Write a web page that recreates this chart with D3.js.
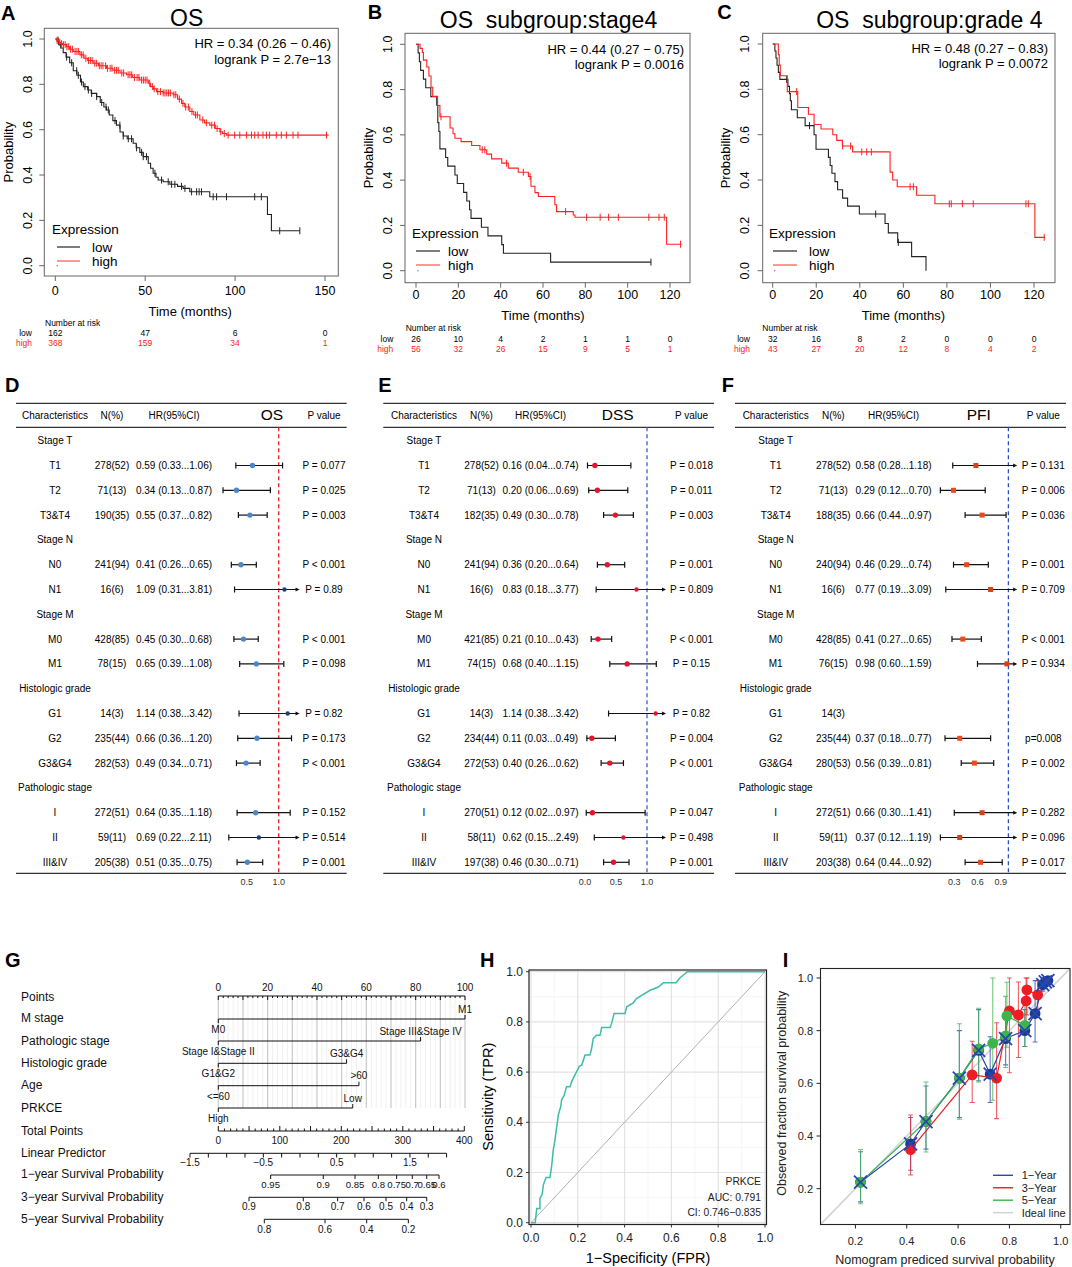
<!DOCTYPE html>
<html><head><meta charset="utf-8">
<script src="https://cdn.jsdelivr.net/npm/d3@7"></script>
<style>body{margin:0;background:#fff}svg text{font-family:"Liberation Sans",Arial,sans-serif}</style>
</head><body><svg id="c" width="1072" height="1267"></svg>
<script>
// ---------------- DATA ----------------
// Panel A (OS)
const aLowT=[1,2,3,4.4,6,8,10,12,14,15.6,18,20,23,25,27,28.5,30,32,34,36,37.8,40,43.3,45,47,48.9,51.7,53,54.4,56,57.2,60,63.7,68,71.1,74.8,85.9,118,120.2];
const aLowS=[0.99,0.975,0.96,0.94,0.92,0.895,0.86,0.84,0.81,0.79,0.775,0.76,0.746,0.72,0.70,0.687,0.665,0.64,0.62,0.59,0.572,0.56,0.54,0.52,0.50,0.481,0.452,0.43,0.408,0.39,0.378,0.37,0.359,0.35,0.341,0.326,0.304,0.226,0.154];
const aLowEnd=136;
const aLowCens=[1.7,6.3,9.1,11.9,12.8,14.6,16.5,18.4,20.2,23,25.8,28.2,29.5,33.2,35.9,37.8,40.6,42.4,45.2,48,48.9,50.7,55.4,59.1,62.8,64.7,66.5,70.2,72.1,75.8,78.6,80,81.3,87.8,89.7,95.2,110.9,114.6,124.8,136];
const aHighT=[1,2,3,4,6.3,8,10,13.7,16,18,21.1,24,28.5,32,36,39.6,43,47,51.7,53,54.5,56.3,60,65.6,68,70.2,72,74.8,77,80.4,83,85.9,89,91.5,93,95.2];
const aHighS=[0.995,0.985,0.98,0.975,0.966,0.955,0.945,0.93,0.915,0.905,0.893,0.882,0.871,0.862,0.85,0.842,0.83,0.819,0.805,0.79,0.78,0.768,0.762,0.754,0.735,0.716,0.70,0.68,0.665,0.643,0.63,0.62,0.605,0.591,0.583,0.576];
const aHighEnd=152;
const aHighCens=[1,1.5,2.5,3.5,4.5,5.5,6.5,7.5,8.5,9.5,11,12,13,14.5,15.5,17,18.5,19.5,20.5,22,23,24.5,25.5,26.5,28,29,30.5,31.5,33,34,35,37,38,40.5,41.5,42.5,44,45.5,46.5,48,49,50,51,52.5,54,55,57,58.5,60,61,62,63,64,66,67,69,71,72.5,74,76,78,79,82,84,87,88.5,90,92,94,96.1,99.8,102.6,106.3,109.1,110.9,112.8,115.5,117.4,119.2,122.9,125.7,128.5,132.2,135,150.8];
const aTicks=[0,50,100,150];
const aRiskLow=[162,47,6,0], aRiskHigh=[368,159,34,1];
// Panel B (stage4)
const bLowT=[1.0,1.6,2.2,3.5,4.6,7.0,9.8,10.3,10.8,11.3,14.0,15.0,18.4,19.5,22.5,24.0,25.3,26.0,30.9,34.0,40.5,41.3,63.6];
const bLowS=[0.962,0.923,0.885,0.846,0.808,0.769,0.731,0.654,0.615,0.538,0.500,0.462,0.423,0.385,0.346,0.308,0.269,0.231,0.192,0.154,0.115,0.077,0.038];
const bLowEnd=111, bLowCens=[111];
const bHighT=[1.9,3.0,3.5,5.1,6.1,7.1,7.9,10.2,11.3,16.1,17.5,18.4,21.3,26.3,30.2,33.4,35.7,40.5,43.6,48.3,53.1,54.3,56.2,57.8,65.6,66.4,74.3,75.1,118.4];
const bHighS=[0.982,0.964,0.93,0.90,0.86,0.81,0.77,0.73,0.68,0.63,0.605,0.585,0.57,0.553,0.534,0.515,0.494,0.475,0.453,0.435,0.416,0.373,0.345,0.328,0.291,0.261,0.246,0.236,0.117];
const bHighEnd=125.5, bHighCens=[11.8,31.3,32.5,42.8,50.7,53.9,70.7,80.6,87.0,91.0,95.6,110.0,114.8,117.3,125.0];
const bTicks=[0,20,40,60,80,100,120];
const bRiskLow=[26,10,4,2,1,1,0], bRiskHigh=[56,32,26,15,9,5,1];
// Panel C (grade 4)
const cLowT=[1.0,1.5,2.0,2.6,3.3,7.0,7.7,8.1,8.6,11.3,14.9,19.0,19.9,25.6,26.4,27.2,28.6,29.8,32.1,34.4,39.8,51.6,53.1,57.4,63.8,70.4];
const cLowS=[0.969,0.938,0.906,0.875,0.844,0.813,0.781,0.75,0.71,0.675,0.64,0.60,0.536,0.50,0.464,0.43,0.393,0.357,0.32,0.285,0.25,0.208,0.167,0.125,0.062,0.0];
const cLowEnd=70.4, cLowCens=[6.4,16.9,47.3,57.7];
const cHighT=[2.6,3.0,3.5,6.7,11.5,16.4,19.0,22.2,27.6,29.4,32.0,36.7,53.9,55.1,57.2,66.1,74.5,120.4];
const cHighS=[0.953,0.907,0.86,0.79,0.72,0.69,0.645,0.625,0.60,0.575,0.55,0.524,0.435,0.40,0.37,0.333,0.295,0.147];
const cHighEnd=125, cHighCens=[11.0,32.1,35.8,40.9,43.2,45.3,63.1,64.6,81.1,82.0,87.1,92.1,116.3,117.4,124.7];
const cTicks=[0,20,40,60,80,100,120];
const cRiskLow=[32,16,8,2,0,0,0], cRiskHigh=[43,27,20,12,8,4,2];

// Forest plots D/E/F
const forestRows=["Stage T","T1","T2","T3&T4","Stage N","N0","N1","Stage M","M0","M1","Histologic grade","G1","G2","G3&G4","Pathologic stage","I","II","III&IV"];
const forestHeads=["Stage T","Stage N","Stage M","Histologic grade","Pathologic stage"];
const osN=["278(52)","71(13)","190(35)","241(94)","16(6)","428(85)","78(15)","14(3)","235(44)","282(53)","272(51)","59(11)","205(38)"];
const osHR=[0.59,0.34,0.55,0.41,1.09,0.45,0.65,1.14,0.66,0.49,0.64,0.69,0.51];
const osLo=[0.33,0.13,0.37,0.26,0.31,0.30,0.39,0.38,0.36,0.34,0.35,0.22,0.35];
const osHi=[1.06,0.87,0.82,0.65,3.81,0.68,1.08,3.42,1.20,0.71,1.18,2.11,0.75];
const osP=["P = 0.077","P = 0.025","P = 0.003","P < 0.001","P = 0.89","P < 0.001","P = 0.098","P = 0.82","P = 0.173","P < 0.001","P = 0.152","P = 0.514","P = 0.001"];
const dssN=["278(52)","71(13)","182(35)","241(94)","16(6)","421(85)","74(15)","14(3)","234(44)","272(53)","270(51)","58(11)","197(38)"];
const dssHR=[0.16,0.20,0.49,0.36,0.83,0.21,0.68,1.14,0.11,0.40,0.12,0.62,0.46];
const dssLo=[0.04,0.06,0.30,0.20,0.18,0.10,0.40,0.38,0.03,0.26,0.02,0.15,0.30];
const dssHi=[0.74,0.69,0.78,0.64,3.77,0.43,1.15,3.42,0.49,0.62,0.97,2.49,0.71];
const dssP=["P = 0.018","P = 0.011","P = 0.003","P = 0.001","P = 0.809","P < 0.001","P = 0.15","P = 0.82","P = 0.004","P < 0.001","P = 0.047","P = 0.498","P = 0.001"];
const pfiN=["278(52)","71(13)","188(35)","240(94)","16(6)","428(85)","76(15)","14(3)","235(44)","280(53)","272(51)","59(11)","203(38)"];
const pfiHR=[0.58,0.29,0.66,0.46,0.77,0.41,0.98,null,0.37,0.56,0.66,0.37,0.64];
const pfiLo=[0.28,0.12,0.44,0.29,0.19,0.27,0.60,null,0.18,0.39,0.30,0.12,0.44];
const pfiHi=[1.18,0.70,0.97,0.74,3.09,0.65,1.59,null,0.77,0.81,1.41,1.19,0.92];
const pfiP=["P = 0.131","P = 0.006","P = 0.036","P = 0.001","P = 0.709","P < 0.001","P = 0.934","","p=0.008","P = 0.002","P = 0.282","P = 0.096","P = 0.017"];

// Nomogram G
const nomoVars=["M stage","Pathologic stage","Histologic grade","Age","PRKCE"];
const nomoLowLab=["M0","Stage I&Stage II","G1&G2","<=60","High"];
const nomoHighLab=["M1","Stage III&Stage IV","G3&G4",">60","Low"];
const nomoHighPts=[100,82,52,57,54.5];
const pointsLabels=[0,20,40,60,80,100];
const totalLabels=[0,100,200,300,400];
const lpLabels=[-1.5,-0.5,0.5,1.5];
const lpRange=[-1.5,2.0], lpTotal=[-46,371.2];
const surv1Lab=["0.95","0.9","0.85","0.8","0.75","0.7","0.65","0.6"], surv1Tot=[85.2,170.7,222.3,260.2,290,315.4,338.9,358.9];
const surv3Lab=["0.9","0.8","0.7","0.6","0.5","0.4","0.3"], surv3Tot=[49.9,138.2,194.1,236.9,272.7,306.3,338.9];
const surv5Lab=["0.8","0.6","0.4","0.2"], surv5Tot=[74.8,173.5,241.3,309];

// ROC H
const rocFPR=[0,0.018,0.0245,0.0245,0.038,0.038,0.048,0.0526,0.064,0.081,0.088,0.095,0.1026,0.11,0.117,0.127,0.131,0.141,0.152,0.167,0.174,0.184,0.195,0.207,0.217,0.231,0.252,0.259,0.266,0.28,0.295,0.302,0.338,0.345,0.355,0.402,0.409,0.437,0.451,0.473,0.509,0.544,0.566,0.62,0.637,0.658,0.668,1.0];
const rocTPR=[0,0,0.057,0.057,0.057,0.097,0.114,0.15,0.18,0.18,0.223,0.289,0.33,0.383,0.43,0.463,0.49,0.506,0.542,0.542,0.562,0.582,0.602,0.624,0.628,0.668,0.668,0.694,0.734,0.747,0.747,0.778,0.778,0.796,0.833,0.833,0.86,0.876,0.893,0.906,0.926,0.939,0.956,0.956,0.976,0.992,1.0,1.0];

// Calibration I
const cal1X=[0.22,0.415,0.475,0.605,0.68,0.725,0.785,0.86,0.90,0.93,0.94,0.95];
const cal1Y=[0.225,0.37,0.455,0.62,0.725,0.635,0.77,0.80,0.865,0.975,0.985,0.99];
const cal1Lo=[0.15,0.27,0.35,0.47,0.61,0.527,0.67,0.74,0.757,0.95,0.96,0.97];
const cal1Hi=[0.34,0.47,0.59,0.80,0.88,0.777,0.87,0.88,0.99,1.0,1.0,1.0];
const cal3X=[0.415,0.655,0.75,0.80,0.835,0.865,0.868,0.91];
const cal3Y=[0.348,0.632,0.62,0.875,0.86,0.913,0.955,0.936];
const cal3Lo=[0.252,0.527,0.466,0.64,0.698,0.80,0.86,0.885];
const cal3Hi=[0.48,0.76,0.83,1.0,0.985,1.0,1.0,0.99];
const cal5X=[0.22,0.475,0.605,0.68,0.735,0.785,0.79,0.86];
const cal5Y=[0.225,0.455,0.62,0.731,0.752,0.78,0.856,0.82];
const cal5Lo=[0.143,0.339,0.464,0.605,0.536,0.66,0.737,0.74];
const cal5Hi=[0.349,0.605,0.826,0.885,1.0,0.93,0.984,0.905];
const calLegend=["1−Year","3−Year","5−Year","Ideal line"];

// ---------------- DRAWING ----------------
const svg=d3.select('#c');
svg.append('rect').attr('width',1072).attr('height',1267).attr('fill','#fff');
function txt(g,x,y,s,o={}){
  const t=g.append('text').attr('x',x).attr('y',y).text(s)
    .attr('font-size',o.size||12).attr('fill',o.fill||'#000')
    .attr('text-anchor',o.anchor||'start').attr('dominant-baseline',o.baseline||'central')
    .style('white-space','pre');
  if(o.weight)t.attr('font-weight',o.weight);
  if(o.rotate)t.attr('transform',`rotate(${o.rotate},${x},${y})`);
  return t;
}
function letter(x,y,s){txt(svg,x,y,s,{size:20,weight:'bold'});}

function stepPts(T,S,end){const p=[[0,1]];let s=1;T.forEach((t,i)=>{p.push([t,s]);s=S[i];p.push([t,s]);});p.push([end,s]);return p;}
function sAt(T,S,t){let s=1;for(let i=0;i<T.length;i++){if(T[i]<=t)s=S[i];}return s;}

function drawKM(c){
  const g=svg.append('g');
  const x=d3.scaleLinear().domain([0,c.ticks[c.ticks.length-1]]).range([c.x0,c.xTpx]);
  const y=d3.scaleLinear().domain([0,1]).range([c.y0,c.y1]);
  const [bx0,by0,bx1,by1]=c.box;
  g.append('rect').attr('x',bx0).attr('y',by0).attr('width',bx1-bx0).attr('height',by1-by0).attr('fill','none').attr('stroke','#666').attr('stroke-width',1);
  [0,0.2,0.4,0.6,0.8,1.0].forEach(v=>{
    g.append('line').attr('x1',bx0).attr('x2',bx0-5).attr('y1',y(v)).attr('y2',y(v)).attr('stroke','#666');
    txt(g,c.ytx,y(v),v.toFixed(1),{size:12.5,anchor:'middle',rotate:-90});
  });
  c.ticks.forEach(v=>{
    g.append('line').attr('x1',x(v)).attr('x2',x(v)).attr('y1',by1).attr('y2',by1+5).attr('stroke','#666');
    txt(g,x(v),c.xty,String(v),{size:12.5,anchor:'middle'});
  });
  txt(g,(x(0)+c.xTpx)/2,c.xly,'Time (months)',{size:13,anchor:'middle'});
  txt(g,c.ylx,(by0+by1)/2,'Probability',{size:13,anchor:'middle',rotate:-90});
  txt(g,c.titleX,c.titleY,c.title,{size:23,anchor:'middle'});
  txt(g,c.hrX,c.hrY[0],c.hr[0],{size:13,anchor:'end'});
  txt(g,c.hrX,c.hrY[1],c.hr[1],{size:13,anchor:'end'});
  const line=d3.line().x(d=>x(d[0])).y(d=>y(d[1]));
  const groups=[{T:c.lowT,S:c.lowS,end:c.lowEnd,cens:c.lowCens,col:'#222'},{T:c.highT,S:c.highS,end:c.highEnd,cens:c.highCens,col:'#ff2020'}];
  groups.forEach(gr=>{
    g.append('path').attr('d',line(stepPts(gr.T,gr.S,gr.end))).attr('fill','none').attr('stroke',gr.col).attr('stroke-width',1.1);
    gr.cens.forEach(t=>{const s=sAt(gr.T,gr.S,t);
      g.append('line').attr('x1',x(t)).attr('x2',x(t)).attr('y1',y(s)-3.5).attr('y2',y(s)+3.5).attr('stroke',gr.col).attr('stroke-width',1);
    });
  });
  g.append('circle').attr('cx',x(0)+2).attr('cy',y(0)).attr('r',0.7).attr('fill','#777');
  // legend
  txt(g,c.legX,c.legY,'Expression',{size:13.5});
  g.append('line').attr('x1',c.legL[0]).attr('x2',c.legL[1]).attr('y1',c.legY+18).attr('y2',c.legY+18).attr('stroke','#444').attr('stroke-width',1.4);
  g.append('line').attr('x1',c.legL[0]).attr('x2',c.legL[1]).attr('y1',c.legY+32).attr('y2',c.legY+32).attr('stroke','#ff6a6a').attr('stroke-width',1.4);
  txt(g,c.legT,c.legY+18,'low',{size:13.5});
  txt(g,c.legT,c.legY+32,'high',{size:13.5});
  // risk table
  txt(g,c.riskX,c.riskY[0],'Number at risk',{size:8.5});
  txt(g,c.riskLabX,c.riskY[1],'low',{size:8.5,anchor:'end'});
  txt(g,c.riskLabX,c.riskY[2],'high',{size:8.5,anchor:'end',fill:'#ff2020'});
  c.ticks.forEach((v,i)=>{
    txt(g,x(v),c.riskY[1],String(c.riskLow[i]),{size:8.5,anchor:'middle'});
    txt(g,x(v),c.riskY[2],String(c.riskHigh[i]),{size:8.5,anchor:'middle',fill:'#ff2020'});
  });
}
drawKM({box:[44.3,28.3,338.3,276],x0:55.3,xTpx:325,y0:265.7,y1:39,ticks:aTicks,ytx:28.3,xty:291,xly:311,ylx:8.3,
  title:'OS',titleX:186.7,titleY:18,hr:['HR = 0.34 (0.26 − 0.46)','logrank P = 2.7e−13'],hrX:331,hrY:[43.3,59.3],
  lowT:aLowT,lowS:aLowS,lowEnd:aLowEnd,lowCens:aLowCens,highT:aHighT,highS:aHighS,highEnd:aHighEnd,highCens:aHighCens,
  legX:52,legY:229,legL:[57,80],legT:92,riskX:45,riskY:[322.7,333.3,343.3],riskLabX:32,riskLow:aRiskLow,riskHigh:aRiskHigh});
drawKM({box:[405,33.3,690,282.7],x0:416,xTpx:670,y0:270.7,y1:44.3,ticks:bTicks,ytx:388.3,xty:295,xly:315,ylx:368.3,
  title:'OS\u00a0\u00a0subgroup:stage4',titleX:548.5,titleY:20,hr:['HR = 0.44 (0.27 − 0.75)','logrank P = 0.0016'],hrX:684,hrY:[49.3,64.3],
  lowT:bLowT,lowS:bLowS,lowEnd:bLowEnd,lowCens:bLowCens,highT:bHighT,highS:bHighS,highEnd:bHighEnd,highCens:bHighCens,
  legX:412,legY:233,legL:[416,440],legT:448,riskX:405.7,riskY:[328.3,339,349],riskLabX:393.3,riskLow:bRiskLow,riskHigh:bRiskHigh});
drawKM({box:[762.7,33.3,1055,282.7],x0:772.7,xTpx:1034,y0:270.7,y1:44,ticks:cTicks,ytx:745,xty:295,xly:315,ylx:725,
  title:'OS\u00a0\u00a0subgroup:grade 4',titleX:929.3,titleY:20,hr:['HR = 0.48 (0.27 − 0.83)','logrank P = 0.0072'],hrX:1048,hrY:[48.3,63.3],
  lowT:cLowT,lowS:cLowS,lowEnd:cLowEnd,lowCens:cLowCens,highT:cHighT,highS:cHighS,highEnd:cHighEnd,highCens:cHighCens,
  legX:769,legY:233,legL:[773,797],legT:809,riskX:762.3,riskY:[328.3,339,349],riskLabX:750,riskLow:cRiskLow,riskHigh:cRiskHigh});
letter(1,13,'A');letter(367.7,12,'B');letter(717.3,12,'C');

function drawForest(c){
  const g=svg.append('g');
  const x=d3.scaleLinear().domain([0,1]).range([c.zero,c.zero+c.ppu]);
  const rowY=i=>440.7+i*24.8;
  [403.3,427.3,873.3].forEach(yy=>g.append('line').attr('x1',c.l0).attr('x2',c.l1).attr('y1',yy).attr('y2',yy).attr('stroke','#333').attr('stroke-width',1.3));
  txt(g,c.cChar,415.7,'Characteristics',{size:10,anchor:'middle'});
  txt(g,c.cN,415.7,'N(%)',{size:10,anchor:'middle'});
  txt(g,c.cHR,415.7,'HR(95%CI)',{size:10,anchor:'middle'});
  txt(g,c.cM,414.3,c.metric,{size:15.5,anchor:'middle'});
  txt(g,c.cP,415.7,'P value',{size:10,anchor:'middle'});
  g.append('line').attr('x1',x(1)).attr('x2',x(1)).attr('y1',427.3).attr('y2',873.3).attr('stroke',c.refCol).attr('stroke-width',1.3).attr('stroke-dasharray','4,3');
  let k=0;
  forestRows.forEach((r,i)=>{
    const yy=rowY(i);
    if(forestHeads.includes(r)){txt(g,c.cChar,yy,r,{size:10,anchor:'middle'});return;}
    const j=k++;
    txt(g,c.cChar,yy,r,{size:10,anchor:'middle'});
    txt(g,c.cN,yy,c.N[j],{size:10,anchor:'middle'});
    if(c.HR[j]!=null){
      txt(g,c.cHR,yy,`${c.HR[j].toFixed(2)} (${c.Lo[j].toFixed(2)}...${c.Hi[j].toFixed(2)})`,{size:10,anchor:'middle'});
      const clipped=c.Hi[j]>c.clip;
      const xl=x(c.Lo[j]), xh=x(Math.min(c.Hi[j],c.clip));
      g.append('line').attr('x1',xl).attr('x2',xh).attr('y1',yy).attr('y2',yy).attr('stroke','#111').attr('stroke-width',1.2);
      g.append('line').attr('x1',xl).attr('x2',xl).attr('y1',yy-3).attr('y2',yy+3).attr('stroke','#111').attr('stroke-width',1.2);
      if(clipped){g.append('path').attr('d',`M${xh+1},${yy}L${xh-3},${yy-2}L${xh-3},${yy+2}Z`).attr('fill','#111');}
      else g.append('line').attr('x1',xh).attr('x2',xh).attr('y1',yy-3).attr('y2',yy+3).attr('stroke','#111').attr('stroke-width',1.2);
      const px=x(c.HR[j]);
      const col=clipped?c.ptDark:c.ptCol;
      if(c.square)g.append('rect').attr('x',px-2.5).attr('y',yy-2.5).attr('width',5).attr('height',5).attr('fill',col);
      else g.append('circle').attr('cx',px).attr('cy',yy).attr('r',clipped?2.2:2.7).attr('fill',col);
    }
    if(c.P[j])txt(g,c.cP,yy,c.P[j],{size:10,anchor:'middle'});
  });
  c.ticks.forEach((v,i)=>txt(g,x(v),882.3,c.tickLab[i],{size:9,anchor:'middle',fill:'#333'}));
}
drawForest({l0:16,l1:346.7,cChar:55,cN:112,cHR:174,cM:272,cP:324,metric:'OS',zero:214.7,ppu:64,clip:1.31,refCol:'#e8202a',
  ptCol:'#4d87c7',ptDark:'#1d3f78',square:false,N:osN,HR:osHR,Lo:osLo,Hi:osHi,P:osP,ticks:[0.5,1.0],tickLab:['0.5','1.0']});
drawForest({l0:383.3,l1:714,cChar:424,cN:481.5,cHR:540.5,cM:617.7,cP:691.5,metric:'DSS',zero:585,ppu:62,clip:1.29,refCol:'#3a5fcd',
  ptCol:'#e8132d',ptDark:'#e8132d',square:false,N:dssN,HR:dssHR,Lo:dssLo,Hi:dssHi,P:dssP,ticks:[0,0.5,1.0],tickLab:['0.0','0.5','1.0']});
drawForest({l0:735,l1:1066,cChar:775.7,cN:833.3,cHR:893.5,cM:978.7,cP:1043.3,metric:'PFI',zero:931.1,ppu:77.3,clip:1.1,refCol:'#2a4fc0',
  ptCol:'#ea4a1c',ptDark:'#d8401a',square:true,N:pfiN,HR:pfiHR,Lo:pfiLo,Hi:pfiHi,P:pfiP,ticks:[0.3,0.6,0.9],tickLab:['0.3','0.6','0.9']});
letter(5,385,'D');letter(378.3,385,'E');letter(721.7,385,'F');

// ---- Nomogram G ----
(function(){
  const g=svg.append('g');
  const xp=d3.scaleLinear().domain([0,100]).range([218.3,465]);
  const xt=d3.scaleLinear().domain([0,400]).range([218.3,464.3]);
  const lp=d3.scaleLinear().domain(lpRange).range(lpTotal.map(v=>xt(v)));
  const leftLab=[["Points",997],["M stage",1018.3],["Pathologic stage",1040.7],["Histologic grade",1062.7],["Age",1085],["PRKCE",1108.3],["Total Points",1130.7],["Linear Predictor",1153.3],["1−year Survival Probability",1174.3],["3−year Survival Probability",1196.7],["5−year Survival Probability",1219]];
  leftLab.forEach(d=>txt(g,21,d[1],d[0],{size:12,fill:'#111'}));
  d3.range(0,101,2).forEach(v=>{
    g.append('line').attr('x1',xp(v)).attr('x2',xp(v)).attr('y1',996).attr('y2',1108).attr('stroke',v%10===0?'#c9c9c9':'#ececec').attr('stroke-width',v%10===0?1.2:0.8);
  });
  g.append('line').attr('x1',xp(0)).attr('x2',xp(100)).attr('y1',996).attr('y2',996).attr('stroke','#111');
  d3.range(0,101,2).forEach(v=>g.append('line').attr('x1',xp(v)).attr('x2',xp(v)).attr('y1',996).attr('y2',v%10===0?1000:998).attr('stroke','#111'));
  pointsLabels.forEach(v=>txt(g,xp(v),987.7,String(v),{size:10,anchor:'middle',fill:'#111'}));
  const rowsY=[1019,1041,1063.3,1085.7,1108];
  nomoVars.forEach((v,i)=>{
    const yy=rowsY[i], xe=xp(nomoHighPts[i]);
    g.append('line').attr('x1',xp(0)).attr('x2',xe).attr('y1',yy).attr('y2',yy).attr('stroke','#111');
    g.append('line').attr('x1',xp(0)).attr('x2',xp(0)).attr('y1',yy).attr('y2',yy+4).attr('stroke','#111');
    g.append('line').attr('x1',xe).attr('x2',xe).attr('y1',yy).attr('y2',yy-4).attr('stroke','#111');
    txt(g,xp(0),yy+10.5,nomoLowLab[i],{size:10,anchor:'middle',fill:'#111'});
    txt(g,xe,yy-10,nomoHighLab[i],{size:10,anchor:'middle',fill:'#111'});
  });
  g.append('line').attr('x1',xt(0)).attr('x2',xt(400)).attr('y1',1131).attr('y2',1131).attr('stroke','#111');
  d3.range(0,401,10).forEach(v=>g.append('line').attr('x1',xt(v)).attr('x2',xt(v)).attr('y1',1131).attr('y2',v%50===0?1126:1128.5).attr('stroke','#111'));
  totalLabels.forEach(v=>txt(g,xt(v),1140.7,String(v),{size:10,anchor:'middle',fill:'#111'}));
  g.append('line').attr('x1',lp(-1.5)).attr('x2',lp(2)).attr('y1',1153.3).attr('y2',1153.3).attr('stroke','#111');
  d3.range(-1.5,2.01,0.25).forEach(v=>g.append('line').attr('x1',lp(v)).attr('x2',lp(v)).attr('y1',1153.3).attr('y2',1157.5).attr('stroke','#111'));
  lpLabels.forEach(v=>txt(g,lp(v),1162.7,(v<0?'−':'')+Math.abs(v).toFixed(1),{size:10,anchor:'middle',fill:'#111'}));
  [[surv1Lab,surv1Tot,1175,1184.3,9.6],[surv3Lab,surv3Tot,1197.3,1206.7,10],[surv5Lab,surv5Tot,1219.3,1229.3,10]].forEach(a=>{
    const [lab,tot,yy,ly,fs]=a;
    g.append('line').attr('x1',xt(tot[0])).attr('x2',xt(tot[tot.length-1])).attr('y1',yy).attr('y2',yy).attr('stroke','#111');
    tot.forEach((t,i)=>{
      g.append('line').attr('x1',xt(t)).attr('x2',xt(t)).attr('y1',yy).attr('y2',yy+4).attr('stroke','#111');
      txt(g,xt(t),ly,lab[i],{size:fs,anchor:'middle',fill:'#111'});
    });
  });
})();
letter(5,960,'G');

// ---- ROC H ----
(function(){
  const g=svg.append('g');
  const x=d3.scaleLinear().domain([0,1]).range([531,765]);
  const y=d3.scaleLinear().domain([0,1]).range([1222.7,971.7]);
  [0.1,0.3,0.5,0.7,0.9].forEach(v=>{
    g.append('line').attr('x1',x(v)).attr('x2',x(v)).attr('y1',970).attr('y2',1224.5).attr('stroke','#f2f2f2').attr('stroke-width',0.7);
    g.append('line').attr('x1',529).attr('x2',766.5).attr('y1',y(v)).attr('y2',y(v)).attr('stroke','#f2f2f2').attr('stroke-width',0.7);
  });
  [0,0.2,0.4,0.6,0.8,1].forEach(v=>{
    g.append('line').attr('x1',x(v)).attr('x2',x(v)).attr('y1',970).attr('y2',1224.5).attr('stroke','#e3e3e3').attr('stroke-width',1.2);
    g.append('line').attr('x1',529).attr('x2',766.5).attr('y1',y(v)).attr('y2',y(v)).attr('stroke','#e3e3e3').attr('stroke-width',1.2);
  });
  g.append('line').attr('x1',x(0)).attr('y1',y(0)).attr('x2',x(1)).attr('y2',y(1)).attr('stroke','#b0b0b0').attr('stroke-width',1);
  const line=d3.line().x((d,i)=>x(rocFPR[i])).y((d,i)=>y(rocTPR[i]));
  g.append('path').attr('d',line(rocFPR)).attr('fill','none').attr('stroke','#3dbda7').attr('stroke-width',1.5);
  g.append('rect').attr('x',529).attr('y',970).attr('width',237.5).attr('height',254.5).attr('fill','none').attr('stroke','#222').attr('stroke-width',1.2);
  [0,0.2,0.4,0.6,0.8,1].forEach(v=>{
    g.append('line').attr('x1',x(v)).attr('x2',x(v)).attr('y1',1224.5).attr('y2',1227.5).attr('stroke','#333');
    g.append('line').attr('x1',529).attr('x2',526).attr('y1',y(v)).attr('y2',y(v)).attr('stroke','#333');
    txt(g,x(v),1237.7,v.toFixed(1),{size:12,anchor:'middle',fill:'#222'});
    txt(g,523,y(v),v.toFixed(1),{size:12,anchor:'end',fill:'#222'});
  });
  txt(g,648,1258.3,'1−Specificity (FPR)',{size:14.5,anchor:'middle'});
  txt(g,488.3,1096.7,'Sensitivity (TPR)',{size:14.5,anchor:'middle',rotate:-90});
  txt(g,761,1181,'PRKCE',{size:10.3,anchor:'end',fill:'#222'});
  txt(g,761,1197.3,'AUC: 0.791',{size:10.3,anchor:'end',fill:'#222'});
  txt(g,761,1212.7,'CI: 0.746−0.835',{size:10.3,anchor:'end',fill:'#222'});
})();
letter(480,960,'H');

// ---- Calibration I ----
(function(){
  const g=svg.append('g');
  const x=d3.scaleLinear().domain([0.064,1.036]).range([820.5,1070]);
  const y=d3.scaleLinear().domain([0.064,1.036]).range([1224.5,968.5]);
  svg.append('clipPath').attr('id','cI').append('rect').attr('x',820.5).attr('y',968.5).attr('width',249.5).attr('height',256);
  const inner=g.append('g').attr('clip-path','url(#cI)');
  inner.append('line').attr('x1',x(0)).attr('y1',y(0)).attr('x2',x(1.1)).attr('y2',y(1.1)).attr('stroke','#d4d4d4').attr('stroke-width',1.6);
  const series=[
    {X:cal1X,Y:cal1Y,Lo:cal1Lo,Hi:cal1Hi,line:'#2a46b0',err:'rgba(40,70,180,0.75)',fill:'#173c8c'},
    {X:cal3X,Y:cal3Y,Lo:cal3Lo,Hi:cal3Hi,line:'#ee1c25',err:'rgba(238,40,48,0.75)',fill:'#ee1c25'},
    {X:cal5X,Y:cal5Y,Lo:cal5Lo,Hi:cal5Hi,line:'#39b34a',err:'rgba(70,180,80,0.75)',fill:'#3db54a'}];
  const ln=d3.line();
  series.forEach(s=>{
    s.X.forEach((v,i)=>{
      const xx=x(v);
      inner.append('line').attr('x1',xx).attr('x2',xx).attr('y1',y(s.Lo[i])).attr('y2',y(s.Hi[i])).attr('stroke',s.err).attr('stroke-width',1.1);
      [s.Lo[i],s.Hi[i]].forEach(e=>inner.append('line').attr('x1',xx-2.5).attr('x2',xx+2.5).attr('y1',y(e)).attr('y2',y(e)).attr('stroke',s.err).attr('stroke-width',1.1));
    });
  });
  series.forEach(s=>{
    inner.append('path').attr('d',ln(s.X.map((v,i)=>[x(v),y(s.Y[i])]))).attr('fill','none').attr('stroke',s.line).attr('stroke-width',1.2);
    s.X.forEach((v,i)=>inner.append('circle').attr('cx',x(v)).attr('cy',y(s.Y[i])).attr('r',5.4).attr('fill',s.fill));
  });
  cal1X.forEach((v,i)=>{
    const xx=x(v),yy=y(cal1Y[i]),d=6.5;
    inner.append('path').attr('d',`M${xx-d},${yy-d}L${xx+d},${yy+d}M${xx-d},${yy+d}L${xx+d},${yy-d}`).attr('stroke','#2a46b0').attr('stroke-width',1.8);
  });
  g.append('rect').attr('x',820.5).attr('y',968.5).attr('width',249.5).attr('height',256).attr('fill','none').attr('stroke','#222').attr('stroke-width',1.1);
  [0.2,0.4,0.6,0.8,1.0].forEach(v=>{
    g.append('line').attr('x1',x(v)).attr('x2',x(v)).attr('y1',1224.5).attr('y2',1228.5).attr('stroke','#222');
    txt(g,x(v),1240.7,v.toFixed(1),{size:11,anchor:'middle',fill:'#222'});
    g.append('line').attr('x1',820.5).attr('x2',816.5).attr('y1',y(v)).attr('y2',y(v)).attr('stroke','#222');
    txt(g,813,y(v),v.toFixed(1),{size:11,anchor:'end',fill:'#222'});
  });
  txt(g,945,1260,'Nomogram prediced survival probability',{size:12.5,anchor:'middle',fill:'#222'});
  txt(g,781.7,1093.3,'Observed fraction survival probability',{size:12.5,anchor:'middle',fill:'#222',rotate:-90});
  const lc=['#2a46b0','#ee1c25','#39b34a','#d0d0d0'];
  calLegend.forEach((s,i)=>{
    const yy=1175.3+i*12.45;
    g.append('line').attr('x1',993).attr('x2',1013).attr('y1',yy).attr('y2',yy).attr('stroke',lc[i]).attr('stroke-width',1.4);
    txt(g,1021.7,yy,s,{size:11,fill:'#222'});
  });
})();
letter(782.7,960,'I');
</script></body></html>
